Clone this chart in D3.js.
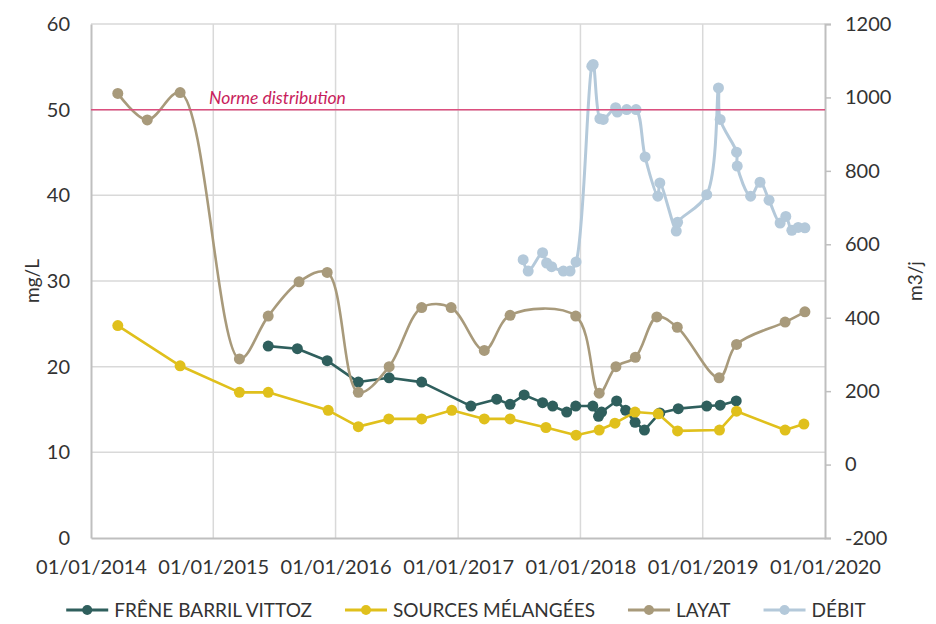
<!DOCTYPE html>
<html>
<head>
<meta charset="utf-8">
<script src="https://cdn.jsdelivr.net/npm/d3@7/dist/d3.min.js"></script>
<style>
  body { margin: 0; background: #fff; }
  text { font-family: Lato, "Open Sans", sans-serif; fill: #333; }
</style>
</head>
<body>
<div id="chart"></div>
<script>
// --- data ---
const xTicks = ['2014-01-01', '2015-01-01', '2016-01-01', '2017-01-01', '2018-01-01', '2019-01-01', '2020-01-01'];
const leftTicks = [0, 10, 20, 30, 40, 50, 60];
const rightTicks = [-200, 0, 200, 400, 600, 800, 1000, 1200];
const normeValue = 50;
const normeLabel = 'Norme distribution';

const freneDates = ['2015-06-14', '2015-09-09', '2015-12-07', '2016-03-09', '2016-06-09', '2016-09-14',
  '2017-02-08', '2017-04-26', '2017-06-05', '2017-07-17', '2017-09-10', '2017-10-10', '2017-11-21',
  '2017-12-18', '2018-02-07', '2018-02-24', '2018-03-05', '2018-04-19', '2018-05-16', '2018-06-13',
  '2018-07-11', '2018-08-26', '2018-10-20', '2019-01-13', '2019-02-22', '2019-04-11'];
const freneValues = [22.4, 22.1, 20.7, 18.2, 18.7, 18.2,
  15.4, 16.2, 15.6, 16.7, 15.8, 15.4, 14.7,
  15.4, 15.4, 14.2, 14.7, 16.0, 14.9, 13.5,
  12.6, 14.6, 15.1, 15.4, 15.5, 16.0];

const sourcesDates = ['2014-03-22', '2014-09-24', '2015-03-20', '2015-06-14', '2015-12-10', '2016-03-09',
  '2016-06-08', '2016-09-14', '2016-12-13', '2017-03-20', '2017-06-05', '2017-09-20', '2017-12-19',
  '2018-02-26', '2018-04-14', '2018-06-13', '2018-08-21', '2018-10-18', '2019-02-20', '2019-04-12',
  '2019-09-04', '2019-10-30'];
const sourcesValues = [24.8, 20.1, 17.0, 17.0, 14.9, 13.0,
  13.9, 13.9, 14.9, 13.9, 13.9, 12.9, 12.0,
  12.6, 13.4, 14.7, 14.5, 12.5, 12.6, 14.8,
  12.6, 13.3];

const layatDates = ['2014-03-22', '2014-06-18', '2014-09-24', '2015-03-20', '2015-06-14', '2015-09-14',
  '2015-12-07', '2016-03-09', '2016-06-09', '2016-09-14', '2016-12-11', '2017-03-20', '2017-06-05',
  '2017-12-18', '2018-02-26', '2018-04-17', '2018-06-14', '2018-08-17', '2018-10-17', '2019-02-19',
  '2019-04-12', '2019-09-04', '2019-11-02'];
const layatValues = [51.9, 48.8, 52.0, 20.9, 25.9, 29.9,
  31.0, 17.0, 20.0, 26.9, 26.9, 21.9, 26.0,
  25.9, 16.9, 20.0, 21.1, 25.8, 24.6, 18.7,
  22.6, 25.2, 26.4];

const debitDates = ['2017-07-14', '2017-07-29', '2017-09-10', '2017-09-22', '2017-10-07', '2017-11-11',
  '2017-12-01', '2017-12-19', '2018-02-04', '2018-02-08', '2018-02-28', '2018-03-10', '2018-04-16',
  '2018-04-21', '2018-05-19', '2018-06-16', '2018-07-13', '2018-08-20', '2018-08-26', '2018-10-14',
  '2018-10-18', '2019-01-13', '2019-02-17', '2019-02-22', '2019-04-12', '2019-04-14', '2019-05-24',
  '2019-06-21', '2019-07-18', '2019-08-20', '2019-09-06', '2019-09-24', '2019-10-13', '2019-11-02'];
const debitValues = [558, 527, 577, 549, 539, 527,
  527, 552, 1085, 1090, 942, 940, 972,
  960, 967, 967, 838, 731, 767, 636,
  660, 735, 1026, 940, 851, 813, 731,
  769, 720, 658, 676, 638, 646, 645];

const width = 936, height = 624;
const margin = { top: 24, right: 111, bottom: 86, left: 91 };

const parse = d3.utcParse('%Y-%m-%d');
const fmt = d3.utcFormat('%d/%m/%Y');

const svg = d3.select('#chart').append('svg')
  .attr('width', width)
  .attr('height', height);

const x = d3.scaleUtc()
  .domain([parse(xTicks[0]), parse(xTicks[xTicks.length - 1])])
  .range([margin.left, width - margin.right]);
const yL = d3.scaleLinear().domain([0, 60]).range([height - margin.bottom, margin.top]);
const yR = d3.scaleLinear().domain([-200, 1200]).range([height - margin.bottom, margin.top]);

// grid
svg.append('g')
  .selectAll('line')
  .data(leftTicks.slice(1))
  .join('line')
  .attr('x1', margin.left).attr('x2', width - margin.right)
  .attr('y1', d => yL(d)).attr('y2', d => yL(d))
  .attr('stroke', '#d9d9d9').attr('stroke-width', 1.5);

svg.append('g')
  .selectAll('line')
  .data(xTicks.slice(1, -1))
  .join('line')
  .attr('x1', d => x(parse(d))).attr('x2', d => x(parse(d)))
  .attr('y1', margin.top).attr('y2', height - margin.bottom)
  .attr('stroke', '#d9d9d9').attr('stroke-width', 1.5);

// axes
const xAxis = svg.append('g')
  .attr('transform', `translate(0,${height - margin.bottom})`)
  .call(d3.axisBottom(x).tickValues(xTicks.map(parse)).tickFormat(fmt).tickSize(0).tickPadding(22));

const leftAxis = svg.append('g')
  .attr('transform', `translate(${margin.left},0)`)
  .call(d3.axisLeft(yL).tickValues(leftTicks).tickSize(0).tickPadding(21));

const rightAxis = svg.append('g')
  .attr('transform', `translate(${width - margin.right},0)`)
  .call(d3.axisRight(yR).tickValues(rightTicks).tickFormat(d => String(d)).tickSize(6).tickPadding(14));

[xAxis, leftAxis, rightAxis].forEach(g => {
  g.select('.domain').attr('stroke', '#bfbfbf').attr('stroke-width', 2);
  g.selectAll('.tick line').attr('stroke', '#bfbfbf').attr('stroke-width', 1.5);
  g.selectAll('.tick text').style('font-family', 'Lato, sans-serif').style('font-size', '20px').attr('fill', '#333');
});

// axis titles
svg.append('text')
  .attr('transform', `translate(39,${(margin.top + height - margin.bottom) / 2}) rotate(-90)`)
  .attr('text-anchor', 'middle')
  .style('font-size', '19px')
  .text('mg/L');

svg.append('text')
  .attr('transform', `translate(922,${(margin.top + height - margin.bottom) / 2}) rotate(-90)`)
  .attr('text-anchor', 'middle')
  .style('font-size', '19px')
  .text('m3/j');

// series
const series = [
  { name: 'FRÊNE BARRIL VITTOZ', dates: freneDates, values: freneValues, color: '#2f5f5d', y: yL, curve: d3.curveLinear, w: 2.6 },
  { name: 'SOURCES MÉLANGÉES', dates: sourcesDates, values: sourcesValues, color: '#e0c01c', y: yL, curve: d3.curveLinear, w: 2.6 },
  { name: 'LAYAT', dates: layatDates, values: layatValues, color: '#a89a7b', y: yL, curve: d3.curveCatmullRom.alpha(0.5), w: 2.6 },
  { name: 'DÉBIT', dates: debitDates, values: debitValues, color: '#b4c9da', y: yR, curve: d3.curveCatmullRom.alpha(0.5), w: 3 },
];

series.forEach(s => {
  const pts = s.dates.map((d, i) => [parse(d), s.values[i]]);
  const g = svg.append('g');
  g.append('path')
    .datum(pts)
    .attr('fill', 'none')
    .attr('stroke', s.color)
    .attr('stroke-width', s.w)
    .attr('stroke-linejoin', 'round')
    .attr('d', d3.line().curve(s.curve).x(d => x(d[0])).y(d => s.y(d[1])));
  g.selectAll('circle')
    .data(pts)
    .join('circle')
    .attr('cx', d => x(d[0]))
    .attr('cy', d => s.y(d[1]))
    .attr('r', 5.5)
    .attr('fill', s.color);
});

// norme line
svg.append('line')
  .attr('x1', margin.left).attr('x2', width - margin.right)
  .attr('y1', yL(normeValue)).attr('y2', yL(normeValue))
  .attr('stroke', '#dc4f7f').attr('stroke-width', 1.5);

svg.append('text')
  .attr('x', margin.left + 118)
  .attr('y', yL(normeValue) - 6)
  .style('font-size', '17.5px')
  .style('font-style', 'italic')
  .style('fill', '#c81d5c')
  .text(normeLabel);

// legend
const gap = 33;
const legend = svg.append('g');
let lx = 0;
series.forEach(s => {
  const item = legend.append('g').attr('transform', `translate(${lx},0)`);
  item.append('line').attr('x1', 0).attr('x2', 42).attr('y1', 0).attr('y2', 0)
    .attr('stroke', s.color).attr('stroke-width', 3);
  item.append('circle').attr('cx', 21).attr('cy', 0).attr('r', 5).attr('fill', s.color);
  const t = item.append('text').attr('x', 48).attr('y', 7)
    .style('font-size', '19px')
    .text(s.name);
  lx += 48 + t.node().getComputedTextLength() + gap;
});
lx -= gap;
legend.attr('transform', `translate(${466 - lx / 2},610)`);
</script>
</body>
</html>
